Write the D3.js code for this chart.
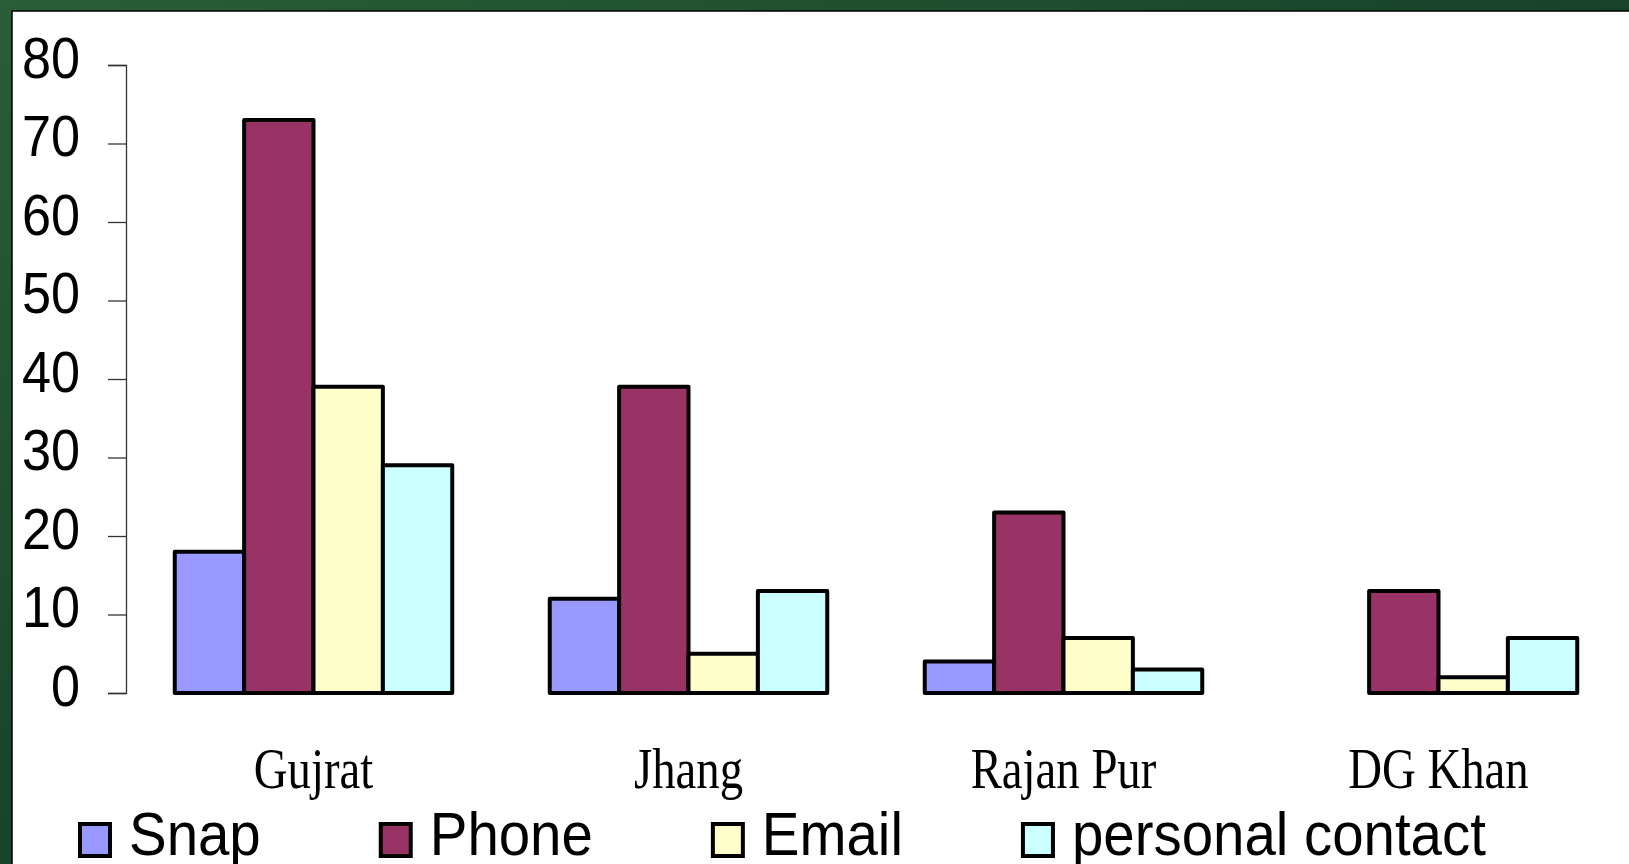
<!DOCTYPE html>
<html lang="en">
<head>
    <meta charset="UTF-8">
    <title>Contact method by district</title>
    <script src="https://d3js.org/d3.v7.min.js"></script>
    <style>
        body {
            margin: 0;
            background: #1e4a2b;
        }
        svg {
            display: block;
        }
        .tick-label {
            font-family: "Liberation Sans", Arial, sans-serif;
            font-size: 58px;
        }
        .cat-label {
            font-family: "Liberation Serif", "Times New Roman", serif;
            font-size: 57px;
        }
        .legend-label {
            font-family: "Liberation Sans", Arial, sans-serif;
            font-size: 62px;
        }
    </style>
</head>
<body>

<svg id="chart" width="1629" height="864"></svg>

<script>
    const districts = ["Gujrat", "Jhang", "Rajan Pur", "DG Khan"];
    const seriesNames = ["Snap", "Phone", "Email", "personal contact"];
    const snap = [18, 12, 4, 0];
    const phone = [73, 39, 23, 13];
    const email = [39, 5, 7, 2];
    const personal = [29, 13, 3, 7];
    const colors = ["#9999ff", "#993366", "#ffffcc", "#ccffff"];
    const yTicks = [0, 10, 20, 30, 40, 50, 60, 70, 80];

    const seriesValues = [snap, phone, email, personal];

    const width = 1629, height = 864;
    const svg = d3.select("#chart");

    // green backdrop with a white panel, like the slide
    const defs = svg.append("defs");
    const grad = defs.append("linearGradient")
        .attr("id", "bg")
        .attr("x1", 0).attr("y1", 0).attr("x2", 1).attr("y2", 1);
    grad.append("stop").attr("offset", "0%").attr("stop-color", "#2a5e36");
    grad.append("stop").attr("offset", "50%").attr("stop-color", "#17432a");
    grad.append("stop").attr("offset", "100%").attr("stop-color", "#2d6a3c");
    svg.append("rect").attr("width", width).attr("height", height).attr("fill", "url(#bg)");
    svg.append("rect")
        .attr("x", 12).attr("y", 11)
        .attr("width", width).attr("height", height)
        .attr("fill", "#fff")
        .attr("stroke", "#000")
        .attr("stroke-width", 1.5);

    const x = d3.scaleBand()
        .domain(districts)
        .range([126, 1626])
        .paddingInner(0.26)
        .paddingOuter(0.13);

    const xs = d3.scaleBand()
        .domain(seriesNames)
        .range([0, x.bandwidth()]);

    const y = d3.scaleLinear()
        .domain([0, 80])
        .range([693, 65]);

    // y axis
    const yAxis = svg.append("g")
        .attr("transform", "translate(126,0)")
        .call(d3.axisLeft(y).tickValues(yTicks).tickSize(18).tickPadding(28));
    yAxis.select(".domain").attr("stroke", "#333").attr("stroke-width", 1.3);
    yAxis.selectAll(".tick line").attr("stroke", "#333").attr("stroke-width", 1.3);
    yAxis.selectAll(".tick text")
        .attr("class", "tick-label")
        .attr("fill", "#000")
        .attr("dy", "0.3em")
        .each(function() {
            const t = d3.select(this);
            const xx = +t.attr("x");
            t.attr("x", null).attr("transform", `translate(${xx},-5) scale(0.9,1)`);
        });
    yAxis.attr("font-size", null).attr("font-family", null);

    // bars
    seriesNames.forEach((name, si) => {
        svg.append("g")
            .selectAll("rect")
            .data(districts.map((d, i) => ({district: d, value: seriesValues[si][i]})).filter(d => d.value > 0))
            .join("rect")
            .attr("x", d => x(d.district) + xs(name))
            .attr("y", d => y(d.value))
            .attr("width", xs.bandwidth())
            .attr("height", d => y(0) - y(d.value))
            .attr("fill", colors[si])
            .attr("stroke", "#000")
            .attr("stroke-width", 4)
            .attr("stroke-linejoin", "round");
    });

    // category labels
    svg.append("g")
        .selectAll("text")
        .data(districts)
        .join("text")
        .attr("class", "cat-label")
        .attr("text-anchor", "middle")
        .attr("transform", d => `translate(${x(d) + x.bandwidth() / 2},788) scale(0.82,1)`)
        .text(d => d);

    // legend, laid out left to right
    const legend = svg.append("g");
    let lx = 78;
    seriesNames.forEach((name, i) => {
        legend.append("rect")
            .attr("x", lx + 2)
            .attr("y", 824)
            .attr("width", 30)
            .attr("height", 32)
            .attr("fill", colors[i])
            .attr("stroke", "#000")
            .attr("stroke-width", 4);
        const t = legend.append("text")
            .attr("class", "legend-label")
            .attr("transform", `translate(${lx + 51},855) scale(0.91,1)`)
            .text(name);
        const w = t.node().getComputedTextLength() * 0.91;
        lx = lx + 51 + w + 118;
    });
</script>

</body>
</html>
